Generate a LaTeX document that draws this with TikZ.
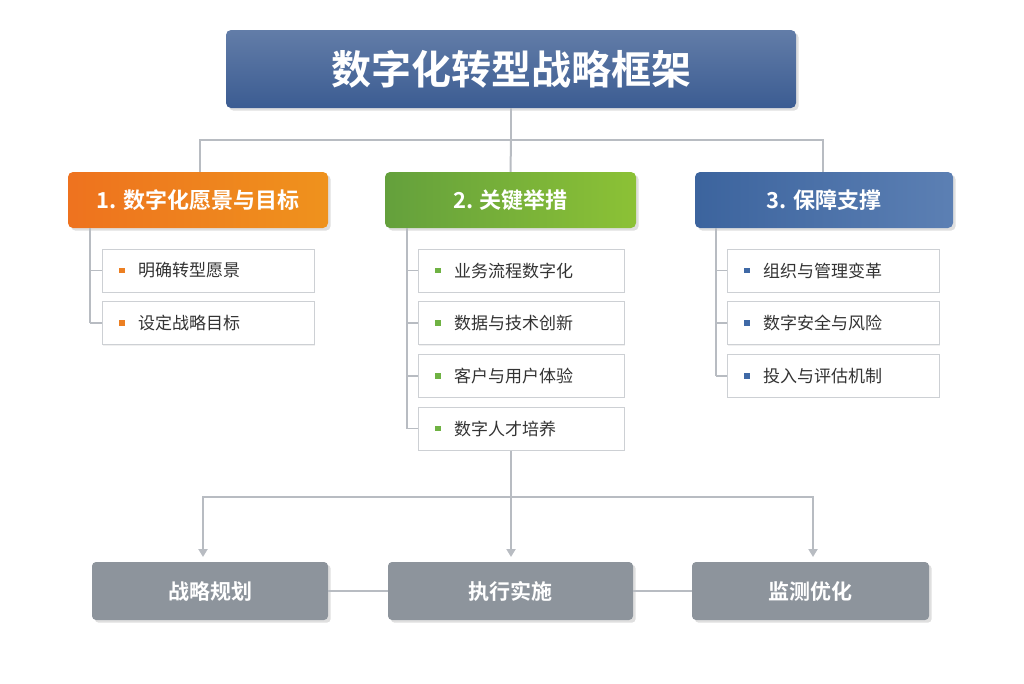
\documentclass[tikz,border=0pt]{standalone}
\usepackage{fontspec}
\setmainfont{Noto Sans CJK SC}
\newfontfamily\cjkb{Noto Sans CJK SC Bold}
\usetikzlibrary{arrows.meta,shadows}
\definecolor{tblue}{HTML}{3B5C92}
\definecolor{orng}{HTML}{EC7F22}
\definecolor{grn}{HTML}{6FB243}
\definecolor{hblue}{HTML}{3F69A6}
\definecolor{gry}{HTML}{8D949C}
\definecolor{lne}{HTML}{B8BCC2}
\begin{document}
\begin{tikzpicture}[x=1pt,y=-1pt,
  hdr/.style={rounded corners=5pt,text=white,font=\cjkb\fontsize{22}{22}\selectfont,drop shadow={opacity=0.25}},
  itm/.style={draw=lne!70,fill=white,line width=0.8pt,drop shadow={opacity=0.12,shadow xshift=1pt,shadow yshift=-1pt}},
  itt/.style={font=\fontsize{17}{17}\selectfont,text=black!80,anchor=west,inner sep=0pt},
  bot/.style={rounded corners=4pt,fill=gry,text=white,font=\cjkb\fontsize{21}{21}\selectfont,drop shadow={opacity=0.25}},
  ln/.style={draw=lne,line width=2pt},
  bul/.style={fill=#1,minimum size=5.5pt,inner sep=0pt}]
\useasboundingbox (0,0) rectangle (1024,683);
% title
\node[hdr,top color=tblue!80,bottom color=tblue,minimum width=570pt,minimum height=78pt,font=\cjkb\fontsize{40}{40}\selectfont] (title) at (511,69) {数字化转型战略框架};
% headers
\node[hdr,left color=orng!90!red,right color=orng!85!yellow,minimum width=260pt,minimum height=56pt] (h1) at (198,200) {1. 数字化愿景与目标};
\node[hdr,left color=grn!90!black,right color=grn!80!yellow,minimum width=251pt,minimum height=56pt] (h2) at (510.5,200) {2. 关键举措};
\node[hdr,left color=hblue!95!black,right color=hblue!85!white,minimum width=258pt,minimum height=56pt] (h3) at (824,200) {3. 保障支撑};
\coordinate (j) at (511,140);
\draw[ln] (title.south) -- (j);
\draw[ln] (h1.north -| 200,0) |- (j) -| (h3.north -| 823,0);
\draw[ln] (j) -- (h2.north);
% items
\newcommand{\grp}[6]{% #1 name #2 x-left #3 linex #4 color #5 width #6 list
  \foreach \t [count=\i] in {#6} {
    \pgfmathsetmacro{\yy}{270.5+52.7*(\i-1)}
    \node[itm,minimum width=#5pt,minimum height=43pt,anchor=west] (#1\i) at (#2,\yy) {};
    \node[bul=#4] at (#2+20,\yy) {};
    \node[itt] at (#2+36,\yy) {\t};
    \draw[ln,line width=1.5pt] (#3,\yy) -- (#1\i.west);
    \xdef\lasty{\yy}
  }
  \draw[ln,line width=1.5pt] (#3,228) -- (#3,\lasty);
}
\grp{a}{102}{90}{orng}{212}{明确转型愿景,设定战略目标}
\grp{b}{418}{407}{grn}{206}{业务流程数字化,数据与技术创新,客户与用户体验,数字人才培养}
\grp{c}{727}{716}{hblue}{212}{组织与管理变革,数字安全与风险,投入与评估机制}
% bottom
\node[bot,minimum width=236pt,minimum height=58pt] (p1) at (210,591) {战略规划};
\node[bot,minimum width=245pt,minimum height=58pt] (p2) at (510.5,591) {执行实施};
\node[bot,minimum width=237pt,minimum height=58pt] (p3) at (810.5,591) {监测优化};
\coordinate (k) at (511,497);
\draw[ln] (b4.south -| 511,0) -- (k);
\draw[ln,-{Triangle[length=8pt,width=9pt]}] (k) -| (203,557);
\draw[ln,-{Triangle[length=8pt,width=9pt]}] (k) -| (813,557);
\draw[ln,-{Triangle[length=8pt,width=9pt]}] (k) -- (511,557);
\draw[ln] (p1) -- (p2); \draw[ln] (p2) -- (p3);
\end{tikzpicture}
\end{document}
